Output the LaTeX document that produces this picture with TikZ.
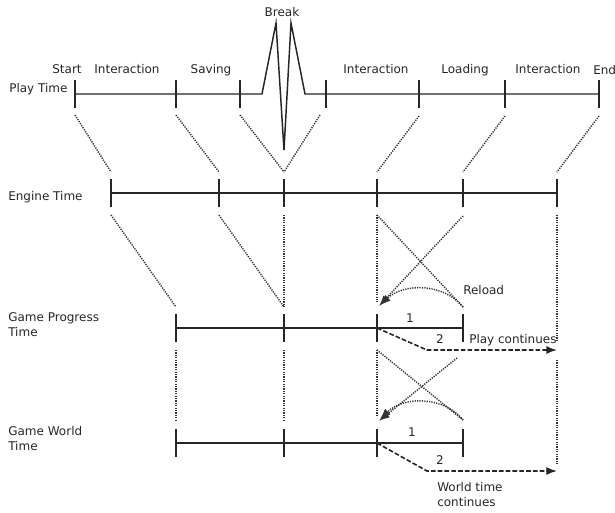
\documentclass[tikz,border=0pt]{standalone}
\usepackage{fontspec}
\setmainfont{DejaVu Sans}
\usetikzlibrary{arrows.meta,calc}
\begin{document}
\begin{tikzpicture}[x=0.75pt,y=-0.75pt,
  tl/.style={line width=1.1pt, color=black!85},
  tickmark/.style={line width=1.3pt, color=black!85},
  dotline/.style={line width=1.1pt, color=black!80, dash pattern=on 0.9pt off 0.9pt},
  dashline/.style={line width=1.2pt, color=black!85, dash pattern=on 3.5pt off 1.6pt},
  lbl/.style={font=\fontsize{9}{11.25}\selectfont, text=black!85, inner sep=0pt, anchor=mid},
  lblw/.style={font=\fontsize{9}{11.25}\selectfont, text=black!85, inner sep=0pt, anchor=west, align=left},
  arr/.style={-{Latex[length=8pt,width=6pt]}}
]
\useasboundingbox (0,0) rectangle (615,512);
% Play time
\coordinate (p1) at (75,94);
\coordinate (p2) at (176,94);
\coordinate (p3) at (240,94);
\coordinate (p4) at (326,94);
\coordinate (p5) at (419,94);
\coordinate (p6) at (505,94);
\coordinate (p7) at (599,94);
\coordinate (z1) at (262,94);
\coordinate (z2) at (276,23);
\coordinate (z3) at (284,150);
\coordinate (z4) at (291,23);
\coordinate (z5) at (305,94);
% Engine time
\coordinate (e1) at (111,193);
\coordinate (e2) at (219,193);
\coordinate (e3) at (284,193);
\coordinate (e4) at (377,193);
\coordinate (e5) at (463,193);
\coordinate (e6) at (557,193);
% Game progress
\coordinate (g1) at (176,328);
\coordinate (g2) at (284,328);
\coordinate (g3) at (377,328);
\coordinate (g4) at (463,328);
% Game world
\coordinate (w1) at (176,443);
\coordinate (w2) at (284,443);
\coordinate (w3) at (377,443);
\coordinate (w4) at (463,443);

% lines
\draw[tl] (p1) -- (z1) -- (z2) -- (z3) -- (z4) -- (z5) -- (p7);
\draw[tl] (e1) -- (e6);
\draw[tl] (g1) -- (g4);
\draw[tl] (w1) -- (w4);
\foreach \c in {p1,p2,p3,p4,p5,p6,p7,e1,e2,e3,e4,e5,e6,g1,g2,g3,g4,w1,w2,w3,w4}
  \draw[tickmark] ($(\c)+(0,-14)$) -- ($(\c)+(0,14)$);

% play -> engine
\draw[dotline] ($(p1)+(0,21)$) -- ($(e1)+(0,-21)$);
\draw[dotline] ($(p2)+(0,21)$) -- ($(e2)+(0,-21)$);
\draw[dotline] ($(p3)+(0,21)$) -- ($(e3)+(0,-21)$);
\draw[dotline] ($(p4)+(-6,21)$) -- ($(e3)+(0,-21)$);
\draw[dotline] ($(p5)+(0,22)$) -- ($(e4)+(0,-21)$);
\draw[dotline] ($(p6)+(0,22)$) -- ($(e5)+(0,-21)$);
\draw[dotline] ($(p7)+(0,22)$) -- ($(e6)+(0,-21)$);

% engine -> game progress
\draw[dotline] ($(e1)+(0,22)$) -- ($(g1)+(0,-21)$);
\draw[dotline] ($(e2)+(0,22)$) -- ($(g2)+(0,-21)$);
\draw[dotline] ($(e3)+(0,22)$) -- ($(g2)+(0,-21)$);
\draw[dotline] ($(e4)+(0,22)$) -- ($(g3)+(0,-26)$);
\draw[dotline] ($(e4)+(0,22)$) -- ($(g4)+(0,-21)$);
\draw[dotline,arr] ($(e5)+(0,23)$) -- ($(g3)+(2,-22)$);
\draw[dotline,arr] ($(g4)+(0,-21)$) .. controls ($(g4)+(-18,-44)$) and ($(g3)+(28,-46)$) .. ($(g3)+(3,-23)$);
\draw[dotline] ($(e6)+(0,22)$) -- ($(e6)+(0,149)$);

% game progress -> game world
\draw[dotline] ($(g1)+(0,22)$) -- ($(w1)+(0,-23)$);
\draw[dotline] ($(g2)+(0,22)$) -- ($(w2)+(0,-23)$);
\draw[dotline] ($(g3)+(0,22)$) -- ($(w3)+(0,-27)$);
\draw[dotline] ($(g3)+(0,22)$) -- ($(w4)+(0,-23)$);
\draw[dotline,arr] ($(g4)+(-6,30)$) -- ($(w3)+(2,-22)$);
\draw[dotline,arr] ($(w4)+(0,-23)$) .. controls ($(w4)+(-18,-46)$) and ($(w3)+(28,-48)$) .. ($(w3)+(3,-24)$);
\draw[dotline] ($(e6)+(0,167)$) -- ($(e6)+(0,272)$);

% continuation arrows
\coordinate (c1) at (427,350);
\coordinate (c2) at (557,350);
\coordinate (d1) at (427,471);
\coordinate (d2) at (557,471);
\draw[dashline,arr] (g3) -- (c1) -- (c2);
\draw[dashline,arr] (w3) -- (d1) -- (d2);

% labels
\node[lbl] (lstart) at (67,70) {Start};
\node[lbl] (lint1) at (127,70) {Interaction};
\node[lbl] (lsave) at (211,70) {Saving};
\node[lbl] (lbreak) at (282,13) {Break};
\node[lbl] (lint2) at (376,70) {Interaction};
\node[lbl] (lload) at (465,70) {Loading};
\node[lbl] (lint3) at (548,70) {Interaction};
\node[lblw] (lend) at (593,70) {End};
\node[lblw] (lplay) at (9,89) {Play Time};
\node[lblw] (leng) at (8,197) {Engine Time};
\node[lblw] (lgp) at (8,325) {Game Progress\\Time};
\node[lblw] (lgw) at (8,439) {Game World\\Time};
\node[lblw] (lrel) at (463,290) {Reload};
\node[lbl] (lg1) at (410,319) {1};
\node[lbl] (lg2) at (440,340) {2};
\node[lblw] (lpc) at (469,340) {Play continues};
\node[lbl] (lw1) at (412,433) {1};
\node[lbl] (lw2) at (440,461) {2};
\node[lblw] (lwc) at (437,495) {World time\\continues};
\end{tikzpicture}
\end{document}
